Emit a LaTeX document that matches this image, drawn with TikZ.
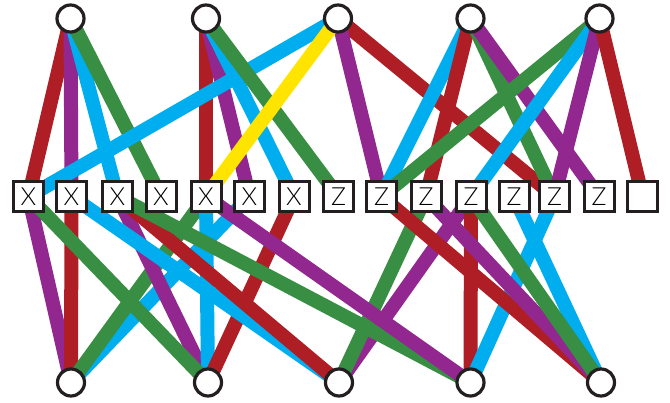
\documentclass[tikz,border=0pt]{standalone}
\usepackage{fontspec}
\setmainfont{Lato Light}
\usetikzlibrary{backgrounds}
\definecolor{cred}{RGB}{175,30,36}
\definecolor{cpur}{RGB}{146,39,143}
\definecolor{cblu}{RGB}{0,174,239}
\definecolor{cgrn}{RGB}{56,142,66}
\definecolor{cyel}{RGB}{255,228,0}
\definecolor{cink}{RGB}{35,31,32}
\begin{document}
\begin{tikzpicture}[x=1pt,y=-1pt,
  circ/.style={circle,draw=cink,line width=3.2pt,fill=white,minimum size=27pt,inner sep=0pt},
  sq/.style={rectangle,draw=cink,line width=3pt,fill=white,minimum size=30pt,inner sep=0pt,font=\fontsize{25}{25}\selectfont},
  edge/.style={line width=14pt}]
\useasboundingbox (0,0) rectangle (670,403);
% top circles
\foreach \n/\x in {T1/70.5,T2/206,T3/338,T4/470.5,T5/599.5}
  \node[circ] (\n) at (\x,18.5) {};
% bottom circles
\foreach \n/\x in {B1/71,B2/208,B3/339,B4/470.5,B5/601}
  \node[circ] (\n) at (\x,382.5) {};
% squares
\foreach \n/\x/\t in {S1/28.5/X,S2/71.5/X,S3/117.5/X,S4/161/X,S5/206/X,S6/249.5/X,S7/294/X,S8/338.5/Z,S9/381.5/Z,S10/426/Z,S11/471/Z,S12/514/Z,S13/554.5/Z,S14/599/Z,S15/642.5/{}}
  \node[sq] (\n) at (\x,196.5) {\t};
\begin{pgfonlayer}{background}
  \foreach \a/\b/\c in {T1/S1/cred,T1/S2/cpur,T1/S3/cblu,T1/S4/cgrn,
                        T2/S5/cred,T2/S6/cpur,T2/S7/cblu,
                        T3/S13/cred,T3/S9/cpur,T3/S1/cblu,T2/S8/cgrn,T3/S5/cyel,
                        T4/S9/cblu,T4/S10/cred,T4/S13/cgrn,T4/S14/cpur,
                        T5/S9/cgrn,T5/S11/cblu,T5/S13/cpur,T5/S15/cred,
                        B1/S1/cpur,B1/S2/cred,B1/S6/cblu,B1/S5/cgrn,
                        B2/S3/cpur,B2/S5/cblu,B2/S7/cred,B2/S1/cgrn,
                        B3/S2/cblu,B3/S3/cred,B3/S11/cpur,B3/S10/cgrn,
                        B4/S3/cgrn,B4/S5/cpur,B4/S11/cred,B4/S13/cblu,
                        B5/S9/cred,B5/S10/cpur,B5/S12/cblu,B5/S11/cgrn}
    \draw[edge,\c] (\a.center) -- (\b.center);
\end{pgfonlayer}
\end{tikzpicture}
\end{document}
